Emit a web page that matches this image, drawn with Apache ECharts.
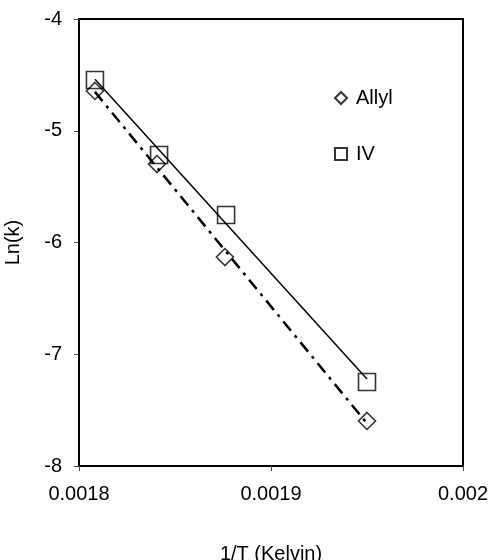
<!DOCTYPE html>
<html>
<head>
<meta charset="utf-8">
<script src="https://cdn.jsdelivr.net/npm/echarts@6/dist/echarts.min.js"></script>
<style>
  html, body { margin: 0; padding: 0; background: #fff; }
  #chart { width: 495px; height: 560px; }
</style>
</head>
<body>
<div id="chart"></div>
<script>
// values
const allylX = [0.0018083, 0.0018406, 0.0018760, 0.0019500];
const allylY = [-4.644, -5.298, -6.130, -7.597];
const ivX = [0.0018083, 0.0018417, 0.0018766, 0.0019500];
const ivY = [-4.546, -5.217, -5.754, -7.248];
const xTicks = [0.0018, 0.0019, 0.002];
const yTicks = [-8, -7, -6, -5, -4];

const font = 'Liberation Sans, Arial, sans-serif';

function pairs(xs, ys) {
  return xs.map((x, i) => [x, ys[i]]);
}

// least squares trendline over the data range
function trend(xs, ys) {
  const n = xs.length;
  const mx = xs.reduce((a, b) => a + b, 0) / n;
  const my = ys.reduce((a, b) => a + b, 0) / n;
  let sxy = 0, sxx = 0;
  for (let i = 0; i < n; i++) {
    sxy += (xs[i] - mx) * (ys[i] - my);
    sxx += (xs[i] - mx) * (xs[i] - mx);
  }
  const b = sxy / sxx;
  const x0 = Math.min(...xs), x1 = Math.max(...xs);
  return [[x0, my + b * (x0 - mx)], [x1, my + b * (x1 - mx)]];
}

const hollow = { color: 'rgba(0,0,0,0)', borderColor: '#000', borderWidth: 1.6 };

const chart = echarts.init(document.getElementById('chart'));
chart.setOption({
  animation: false,
  backgroundColor: '#fff',
  textStyle: { fontFamily: font, color: '#000' },
  grid: {
    left: 79, top: 19, right: 32, bottom: 94,
    outerBoundsMode: 'none',
    show: true, borderColor: '#000', borderWidth: 2
  },
  legend: {
    data: ['Allyl', 'IV'],
    orient: 'vertical',
    left: 329, top: 83,
    itemWidth: 12, itemHeight: 12,
    itemGap: 36,
    textStyle: { fontSize: 20, color: '#000', fontFamily: font, padding: [0, 0, 0, 4] }
  },
  xAxis: {
    type: 'value',
    min: xTicks[0], max: xTicks[xTicks.length - 1], interval: 0.0001,
    name: '1/T (Kelvin)', nameLocation: 'middle', nameGap: 78,
    nameTextStyle: { fontSize: 20, color: '#000' },
    axisLine: { onZero: false, lineStyle: { color: '#000', width: 2 } },
    axisTick: { length: 5, lineStyle: { color: '#444' } },
    axisLabel: { fontSize: 20, color: '#000', margin: 18,
      formatter: v => String(+v.toFixed(4)) },
    splitLine: { show: false }
  },
  yAxis: {
    type: 'value',
    min: yTicks[0], max: yTicks[yTicks.length - 1], interval: 1,
    name: 'Ln(k)', nameLocation: 'middle', nameGap: 56,
    nameTextStyle: { fontSize: 20, color: '#000' },
    axisLine: { onZero: false, lineStyle: { color: '#000', width: 2 } },
    axisTick: { length: 5, lineStyle: { color: '#444' } },
    axisLabel: { fontSize: 20, color: '#000', margin: 17 },
    splitLine: { show: false }
  },
  series: [
    {
      name: 'Allyl fit', type: 'line', data: trend(allylX, allylY),
      symbol: 'none', z: 2,
      lineStyle: { color: '#000', width: 2.5, type: [12, 6, 3, 6] }
    },
    {
      name: 'IV fit', type: 'line', data: trend(ivX, ivY),
      symbol: 'none', z: 2,
      lineStyle: { color: '#000', width: 1.5 }
    },
    {
      name: 'Allyl', type: 'scatter', data: pairs(allylX, allylY),
      symbol: 'diamond', symbolSize: 17, z: 3, itemStyle: hollow
    },
    {
      name: 'IV', type: 'scatter', data: pairs(ivX, ivY),
      symbol: 'rect', symbolSize: 17, z: 3, itemStyle: hollow
    }
  ]
});
</script>
</body>
</html>
